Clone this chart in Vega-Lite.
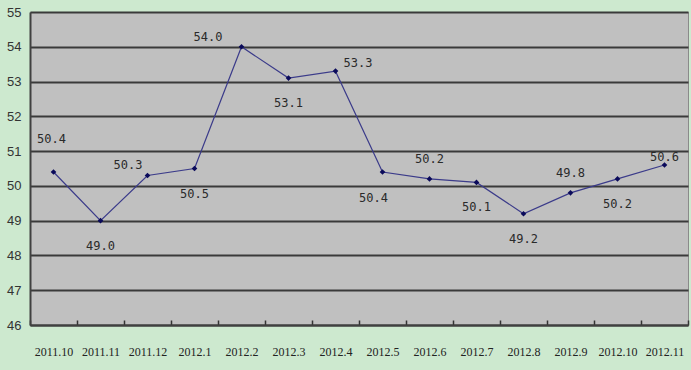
{
  "$schema": "https://vega.github.io/schema/vega-lite/v6.json",
  "autosize": "none",
  "width": 658,
  "height": 313,
  "padding": {"left": 30, "top": 12, "right": 3, "bottom": 45},
  "background": "#CDE9CF",
  "view": {"fill": "#C0C0C0", "stroke": "#8A8A8A", "strokeWidth": 1},
  "data": {
    "values": [
      {"month": "2011.10", "value": 50.4},
      {"month": "2011.11", "value": 49.0},
      {"month": "2011.12", "value": 50.3},
      {"month": "2012.1", "value": 50.5},
      {"month": "2012.2", "value": 54.0},
      {"month": "2012.3", "value": 53.1},
      {"month": "2012.4", "value": 53.3},
      {"month": "2012.5", "value": 50.4},
      {"month": "2012.6", "value": 50.2},
      {"month": "2012.7", "value": 50.1},
      {"month": "2012.8", "value": 49.2},
      {"month": "2012.9", "value": 49.8},
      {"month": "2012.10", "value": 50.2},
      {"month": "2012.11", "value": 50.6}
    ]
  },
  "encoding": {
    "x": {
      "field": "month", "type": "ordinal", "sort": null,
      "scale": {"paddingInner": 0, "paddingOuter": 0},
      "axis": {
        "title": null, "labelAngle": 0, "labelFont": "Liberation Serif", "labelFontSize": 12,
        "labelColor": "#222222", "labelPadding": 26, "tickBand": "extent", "tickSize": -5,
        "tickColor": "#333333", "tickWidth": 1.5, "domainColor": "#404040", "domainWidth": 2, "grid": false
      }
    },
    "y": {
      "field": "value", "type": "quantitative",
      "scale": {"domain": [46, 55], "nice": false, "zero": false},
      "axis": {
        "title": null, "values": [46, 47, 48, 49, 50, 51, 52, 53, 54, 55], "ticks": false,
        "labelFont": "Liberation Sans", "labelFontSize": 13, "labelColor": "#333333", "labelPadding": 9,
        "domainColor": "#404040", "domainWidth": 2, "grid": true, "gridColor": "#3A3A3A", "gridWidth": 2
      }
    }
  },
  "layer": [
    {"mark": {"type": "line", "color": "#3B3B8A", "strokeWidth": 1.2}},
    {"mark": {"type": "point", "shape": "diamond", "filled": true, "size": 32, "color": "#0A0A5A", "opacity": 1}},
    {
      "transform": [{"filter": {"field": "month", "oneOf": ["2011.11", "2012.1", "2012.3", "2012.7", "2012.8", "2012.10"]}}],
      "mark": {"type": "text", "dy": 25, "font": "DejaVu Sans Mono", "fontSize": 12, "color": "#2A2A2A"},
      "encoding": {"text": {"field": "value", "type": "quantitative", "format": ".1f"}}
    },
    {
      "transform": [{"filter": {"field": "month", "oneOf": ["2012.5"]}}],
      "mark": {"type": "text", "dy": 26, "dx": -9, "font": "DejaVu Sans Mono", "fontSize": 12, "color": "#2A2A2A"},
      "encoding": {"text": {"field": "value", "type": "quantitative", "format": ".1f"}}
    },
    {
      "transform": [{"filter": {"field": "month", "oneOf": ["2012.6", "2012.9"]}}],
      "mark": {"type": "text", "dy": -20, "font": "DejaVu Sans Mono", "fontSize": 12, "color": "#2A2A2A"},
      "encoding": {"text": {"field": "value", "type": "quantitative", "format": ".1f"}}
    },
    {
      "transform": [{"filter": {"field": "month", "oneOf": ["2011.10"]}}],
      "mark": {"type": "text", "dy": -33, "dx": -2, "font": "DejaVu Sans Mono", "fontSize": 12, "color": "#2A2A2A"},
      "encoding": {"text": {"field": "value", "type": "quantitative", "format": ".1f"}}
    },
    {
      "transform": [{"filter": {"field": "month", "oneOf": ["2012.11"]}}],
      "mark": {"type": "text", "dy": -8, "font": "DejaVu Sans Mono", "fontSize": 12, "color": "#2A2A2A"},
      "encoding": {"text": {"field": "value", "type": "quantitative", "format": ".1f"}}
    },
    {
      "transform": [{"filter": {"field": "month", "oneOf": ["2011.12"]}}],
      "mark": {"type": "text", "dy": -10, "dx": -5, "align": "right", "font": "DejaVu Sans Mono", "fontSize": 12, "color": "#2A2A2A"},
      "encoding": {"text": {"field": "value", "type": "quantitative", "format": ".1f"}}
    },
    {
      "transform": [{"filter": {"field": "month", "oneOf": ["2012.2"]}}],
      "mark": {"type": "text", "dy": -10, "dx": -19, "align": "right", "font": "DejaVu Sans Mono", "fontSize": 12, "color": "#2A2A2A"},
      "encoding": {"text": {"field": "value", "type": "quantitative", "format": ".1f"}}
    },
    {
      "transform": [{"filter": {"field": "month", "oneOf": ["2012.4"]}}],
      "mark": {"type": "text", "dy": -8, "dx": 8, "align": "left", "font": "DejaVu Sans Mono", "fontSize": 12, "color": "#2A2A2A"},
      "encoding": {"text": {"field": "value", "type": "quantitative", "format": ".1f"}}
    }
  ]
}
